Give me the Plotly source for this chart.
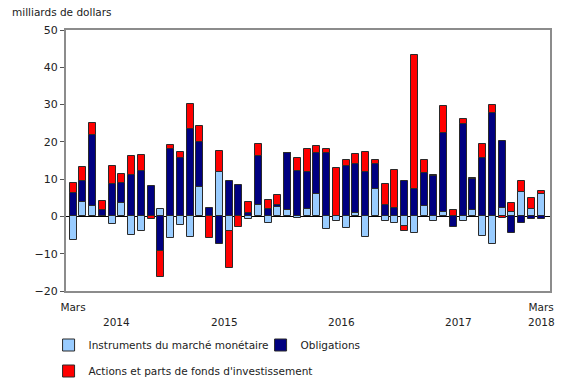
import plotly.graph_objects as go
import pandas as pd

months = pd.date_range("2014-03-01", "2018-03-01", freq="MS")
x_idx = list(range(len(months)))

mmi = [-6.2, 3.9, 2.8, 0.0, -2.0, 3.6, -4.9, -3.9, 0.0, 1.9, -5.8, -2.2, -5.4, 7.8, 0.0, 11.8,
       -3.9, 0.0, -0.8, 3.0, -1.7, 2.5, 1.6, -0.3, 2.1, 5.9, -3.4, -1.1, -3.0, 1.0, -5.5, 7.4,
       -1.1, -1.8, -2.6, -4.5, 2.7, -1.1, 1.3, 0.0, -1.3, 1.6, -5.3, -7.5, 2.2, 1.3, 6.6, 2.1, 6.1]
bonds = [6.2, 5.5, 19.1, 1.6, 8.7, 5.3, 11.2, 12.2, 8.2, -9.3, 18.2, 15.6, 23.4, 12.1, 2.2, -7.3,
         9.4, 8.4, 0.9, 13.2, 1.9, 0.7, 15.5, 12.1, 9.7, 11.2, 17.1, 0.0, 13.4, 13.0, 11.8, 6.6,
         3.2, 2.2, 9.4, 7.3, 8.9, 10.8, 21.0, -2.7, 24.7, 8.4, 15.7, 27.7, 18.1, -4.4, -1.7, -0.8, -0.8]
equity = [2.9, 3.8, 3.1, 2.6, 4.7, 2.4, 5.0, 4.3, -0.6, -6.9, 1.0, 1.6, 6.8, 4.3, -5.7, 5.7,
          -9.9, -2.9, 3.0, 3.2, 2.4, 2.6, 0.0, 3.5, 6.4, 1.8, 0.9, 13.1, 1.8, 2.7, 5.6, 1.1,
          5.4, 10.3, -1.4, 36.0, 3.5, 0.3, 7.2, 1.7, 1.5, 0.2, 3.8, 2.1, -0.5, 2.4, 2.8, 2.8, 0.7]

series_names = ["Instruments du marché monétaire", "Obligations",
                "Actions et parts de fonds d'investissement"]
series_colors = ["#99CCFF", "#000080", "#FF0000"]

year_labels = ["2014", "2015", "2016", "2017", "2018"]
year_pos = [4.5, 15.5, 27.5, 39.5, 48]
month_tick_pos = [0, 48]
month_tick_text = ["Mars", "Mars"]

font_family = "DejaVu Sans"
txt = "#222222"

legend_ids = ["legend", "legend2", "legend3"]

fig = go.Figure()
for name, vals, col, lg in zip(series_names, [mmi, bonds, equity], series_colors, legend_ids):
    fig.add_trace(go.Bar(
        x=x_idx, y=vals, name=name, width=0.72, showlegend=True,
        marker=dict(color=col, line=dict(color="#2a2a2a", width=1)),
        legend=lg,
    ))

annotations = [dict(text="milliards de dollars", xref="paper", yref="paper",
                    x=-0.1157, y=1.069, xanchor="left", yanchor="middle",
                    showarrow=False, font=dict(size=10.5, color=txt, family=font_family))]
for yl, xp in zip(year_labels, year_pos):
    annotations.append(dict(text=yl, xref="x", yref="paper", x=xp, y=-0.119,
                            xanchor="center", yanchor="middle", showarrow=False,
                            font=dict(size=10.5, color=txt, family=font_family)))

leg_common = dict(orientation="h", xref="paper", yref="container",
                  xanchor="left", yanchor="middle",
                  font=dict(size=10.5, color=txt, family=font_family),
                  itemclick=False, itemdoubleclick=False, bgcolor="rgba(0,0,0,0)")

fig.update_layout(
    barmode="relative",
    showlegend=True,
    width=580, height=385,
    margin=dict(l=66, r=30, t=30, b=94, autoexpand=False),
    paper_bgcolor="white", plot_bgcolor="white",
    font=dict(family=font_family, size=10.5, color=txt),
    annotations=annotations,
    bargap=0,
    legend=dict(x=-0.036, y=1 - 345 / 385, **leg_common),
    legend2=dict(x=0.402, y=1 - 345 / 385, **leg_common),
    legend3=dict(x=-0.036, y=1 - 371 / 385, **leg_common),
)
fig.update_xaxes(range=[-0.72, 48.92], tickvals=month_tick_pos, ticktext=month_tick_text,
                 showgrid=False, zeroline=False, showline=True, mirror=True,
                 linecolor="#8c8c8c", linewidth=2, ticks="", ticklabelstandoff=5,
                 tickfont=dict(size=10.5, color=txt, family=font_family))
fig.update_yaxes(range=[-20, 50], dtick=10, showgrid=False, zeroline=True,
                 zerolinecolor="#000000", zerolinewidth=1,
                 showline=True, mirror=True, linecolor="#8c8c8c", linewidth=2,
                 ticks="outside", ticklen=4, tickcolor="#555555",
                 tickfont=dict(size=11, color=txt, family=font_family))

fig.write_html("out.html")
